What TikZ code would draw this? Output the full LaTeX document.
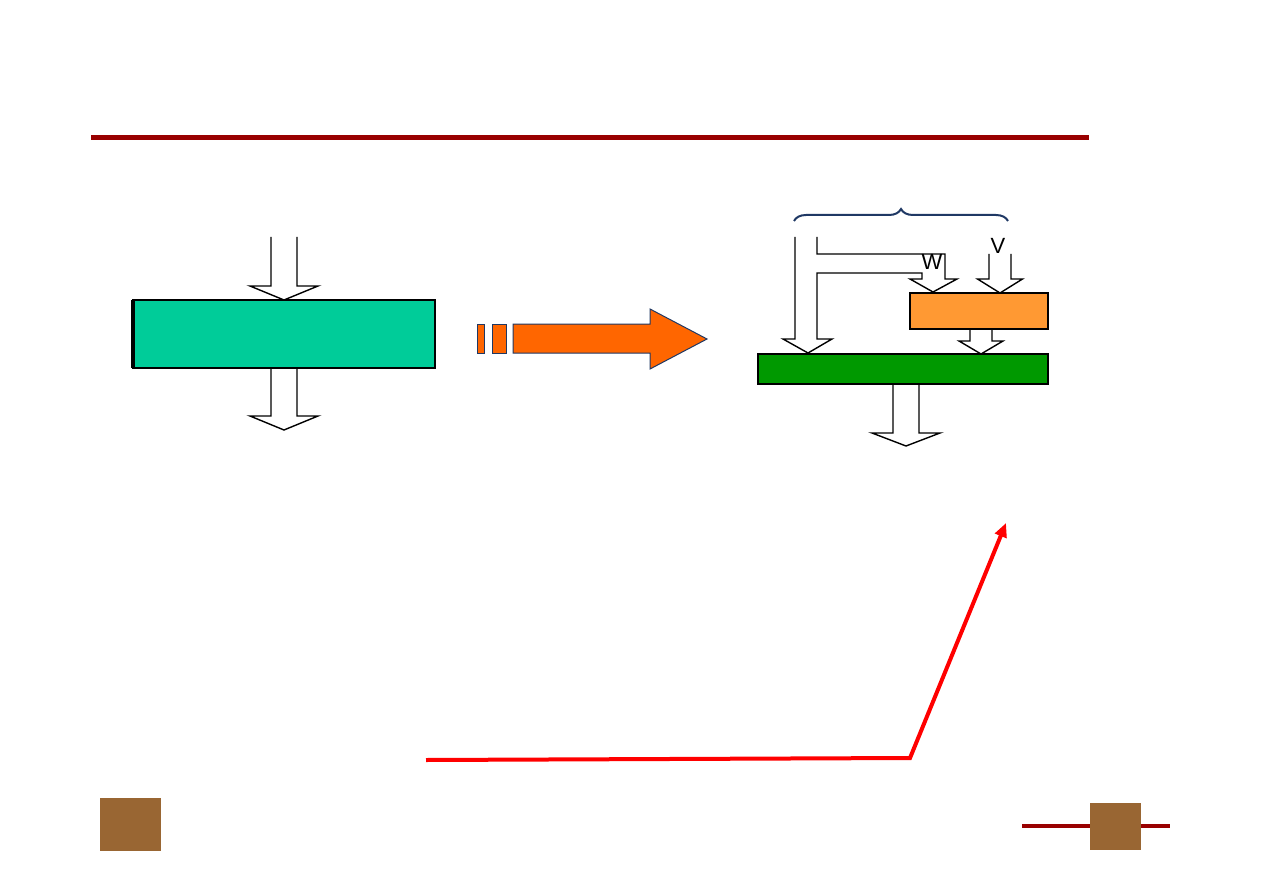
\documentclass[tikz,border=0pt]{standalone}
\usepackage{fontspec}
\setmainfont{Liberation Sans}
\usetikzlibrary{calc,decorations.pathreplacing,arrows.meta}

\definecolor{barred}{HTML}{990000}
\definecolor{tealfill}{HTML}{00CC99}
\definecolor{orangefill}{HTML}{FF9933}
\definecolor{greenfill}{HTML}{009900}
\definecolor{bigorange}{HTML}{FF6600}
\definecolor{navyline}{HTML}{1F3864}
\definecolor{brownfill}{HTML}{996633}

% hollow block arrow: tip, length, half shaft, half head, head height
\newcommand{\hollowarrow}[5]{%
  \draw[hollowline] ($#1+(-#3,-#2)$) -- ($#1+(-#3,-#5)$) -- ($#1+(-#4,-#5)$) -- #1
    -- ($#1+(#4,-#5)$) -- ($#1+(#3,-#5)$) -- ($#1+(#3,-#2)$);}

\tikzset{
  block/.style={draw=black,line width=0.6pt,inner sep=0pt,outer sep=0pt},
  hollowline/.style={line width=0.7pt,line join=miter},
  tab/.style={fill=brownfill,inner sep=0pt,outer sep=0pt}
}

\begin{document}
\begin{tikzpicture}[x=0.5pt,y=-0.5pt, every node/.style={font=\fontsize{11pt}{12pt}\selectfont}]
\useasboundingbox (0,0) rectangle (1263,893);
% header rule
\draw[barred,line width=2.5pt] (91,138) -- (1089,138);

% left block
\node[block,fill=tealfill,minimum width=151pt,minimum height=34pt] (teal) at (284,334) {};
\draw[line width=1.6pt] (teal.north west) -- (teal.south west);
\hollowarrow{(teal.north)}{63}{13}{34}{14}
\coordinate (tealout) at ($(teal.south)+(0,62)$);
\hollowarrow{(tealout)}{62}{13}{34}{14}

% big orange arrow
\draw[navyline,line width=0.5pt,fill=bigorange] (477,324) rectangle (484,353);
\draw[navyline,line width=0.5pt,fill=bigorange] (492,324) rectangle (506,353);
\draw[navyline,line width=0.5pt,fill=bigorange] (513,324) -- (650,324) -- (650,309) -- (707,339)
  -- (650,369) -- (650,353) -- (513,353) -- cycle;

% right block
\node[block,fill=orangefill,minimum width=69pt,minimum height=18pt] (orng) at (979,311) {};
\node[block,fill=greenfill,minimum width=145pt,minimum height=15pt] (grn) at (903,369) {};
\draw[navyline,line width=1pt,decorate,decoration={brace,amplitude=6pt}] (794,221) -- (1008,221);
\draw[hollowline] (795,237) -- (795,339) -- (783,339) -- (808,353) -- (832,339) -- (817,339)
  -- (817,273) -- (922,273) -- (922,279) -- (910,279) -- (933,292) -- (957,279) -- (945,279)
  -- (945,254) -- (817,254) -- (817,237);
\node (wlbl) at (932,262) {W};
\node (vlbl) at (998,246) {V};
\coordinate (vtip) at ($(orng.north west)+(90,0)$);
\hollowarrow{(vtip)}{39}{11}{22.5}{14}
\coordinate (otip) at ($(grn.north -| orng.south)+(2,0)$);
\hollowarrow{(otip)}{25}{11}{22}{13}
\coordinate (gout) at ($(grn.south)+(3,62)$);
\hollowarrow{(gout)}{62}{13}{34}{13}

% red pointer
\coordinate (rstart) at (426,760);
\coordinate (rbend) at (910,758);
\coordinate (rend) at (1006,523);
\draw[red,line width=2pt,-{Triangle[length=7pt,width=6pt]}] (rstart) -- (rbend) -- (rend);

% footer
\node[tab,minimum width=30.5pt,minimum height=26.5pt] (tabl) at (130.5,824.5) {};
\draw[barred,line width=2pt] (1022,826) -- (1170,826);
\node[tab,minimum width=25.5pt,minimum height=23.5pt] (tabr) at (1115.5,826.5) {};
\end{tikzpicture}
\end{document}
